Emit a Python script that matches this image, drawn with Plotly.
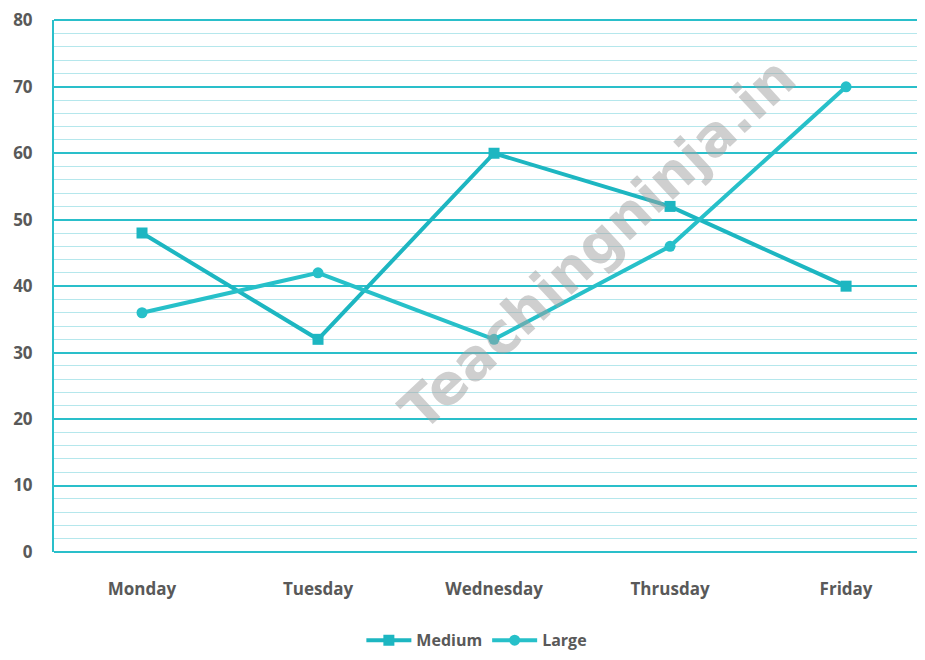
import plotly.graph_objects as go

days = ["Monday", "Tuesday", "Wednesday", "Thrusday", "Friday"]
medium = [48, 32, 60, 52, 40]
large = [36, 42, 32, 46, 70]

fig = go.Figure()
fig.add_trace(go.Scatter(x=days, y=medium, name="Medium", mode="lines+markers",
                         line=dict(color="#1db6c1", width=4),
                         marker=dict(symbol="square", size=11, color="#1db6c1")))
fig.add_trace(go.Scatter(x=days, y=large, name="Large", mode="lines+markers",
                         line=dict(color="#27c0c9", width=4),
                         marker=dict(symbol="circle", size=11, color="#27c0c9")))

fig.add_annotation(text="<b>Teachingninja.in</b>", x=0.63, y=0.58, xref="paper", yref="paper",
                   showarrow=False, textangle=-43,
                   font=dict(family="DejaVu Sans", size=56, color="rgba(160,160,160,0.5)"))

# top frame line of the plot area
fig.add_shape(type="line", xref="paper", yref="paper", x0=0, x1=1, y0=1, y1=1,
              line=dict(color="#2abfca", width=2), layer="below")

fig.update_layout(
    width=909, height=644,
    margin=dict(l=46, r=0, t=12, b=100, autoexpand=False),
    plot_bgcolor="white", paper_bgcolor="white",
    font=dict(family="Open Sans", color="#595959"),
    showlegend=True,
    legend=dict(orientation="h", x=0.49, xanchor="center", y=-0.166, yanchor="middle",
                font=dict(size=16, color="#595959", family="Open Sans", weight="bold"),
                itemwidth=45),
)
fig.update_xaxes(range=[-0.5, 4.403], showgrid=False, showline=False, ticks="",
                 tickfont=dict(size=17, family="Open Sans", color="#595959", weight="bold"),
                 ticklabelstandoff=25)
fig.update_yaxes(range=[0, 80.05], tickvals=[0, 10, 20, 30, 40, 50, 60, 70, 80],
                 showgrid=True, gridcolor="#2abfca", gridwidth=1.5,
                 showline=True, linecolor="#2abfca", linewidth=2, zeroline=True,
                 zerolinecolor="#2abfca", zerolinewidth=2,
                 minor=dict(dtick=2, showgrid=True, gridcolor="#b5e7ec", gridwidth=1),
                 tickfont=dict(size=17, family="Open Sans", color="#595959", weight="bold"),
                 ticklabelstandoff=16)

fig.write_html("out.html")
